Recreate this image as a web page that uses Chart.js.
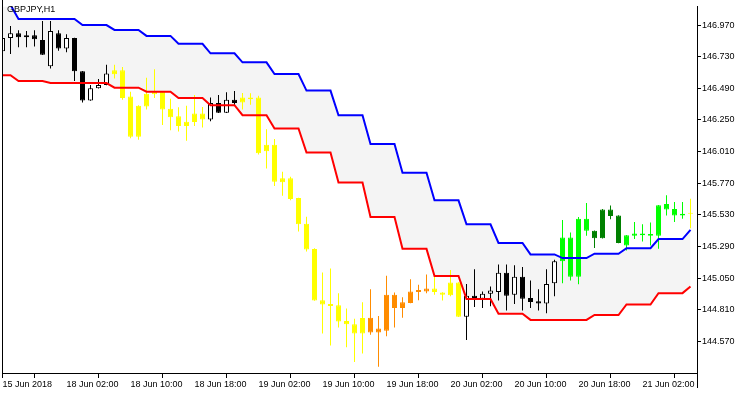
<!DOCTYPE html>
<html>
<head>
<meta charset="utf-8">
<style>
html,body{margin:0;padding:0;background:#ffffff;}
#wrap{position:relative;width:750px;height:394px;overflow:hidden;}
#c{display:block;}
#sym{position:absolute;left:7px;top:4px;font:9px "Liberation Sans",Arial,sans-serif;line-height:10px;color:#000;white-space:nowrap;}
</style>
<script src="https://cdn.jsdelivr.net/npm/chart.js@4.4.1/dist/chart.umd.min.js"></script>
</head>
<body>
<div id="wrap"><canvas id="c" width="750" height="394"></canvas><div id="sym">GBPJPY,H1</div></div>
<script>
// ---- data (GBPJPY, H1) ----
const open = [146.771,146.871,146.908,146.878,146.893,146.856,146.657,146.908,146.793,146.871,
146.620,146.398,146.490,146.515,146.597,146.627,146.428,146.122,146.353,146.446,
146.465,146.336,146.279,146.204,146.234,146.299,146.254,146.379,146.304,146.403,
146.383,146.420,146.420,146.013,146.062,145.777,145.807,145.657,145.463,145.270,
144.850,144.854,144.844,144.725,144.700,144.630,144.750,144.638,144.651,144.924,
144.824,144.862,144.944,144.949,144.971,144.941,144.919,145.016,144.757,144.917,
144.894,144.932,144.944,145.091,144.924,145.061,144.899,144.874,144.857,145.011,
145.178,145.359,145.061,145.501,145.409,145.352,145.570,145.525,145.297,145.372,
145.376,145.372,145.372,145.613,145.575,145.525,145.538];
const high = [146.888,146.963,146.930,146.925,146.930,147.000,147.000,146.930,146.901,146.874,
146.621,146.515,146.560,146.669,146.669,146.652,146.465,146.362,146.570,146.634,
146.467,146.411,146.346,146.358,146.440,146.349,146.420,146.440,146.461,146.470,
146.455,146.453,146.433,146.179,146.105,145.857,145.819,145.660,145.516,145.277,
145.093,145.123,144.936,144.820,144.742,144.867,144.966,144.762,145.068,144.941,
144.904,145.041,144.999,145.078,145.061,144.943,145.111,145.018,145.006,145.118,
144.949,144.986,145.153,145.153,145.148,145.135,145.031,144.966,145.118,145.190,
145.491,145.396,145.513,145.620,145.411,145.575,145.600,145.527,145.378,145.476,
145.458,145.471,145.605,145.678,145.628,145.628,145.652];
const low = [146.754,146.751,146.801,146.801,146.808,146.742,146.640,146.776,146.763,146.545,
146.383,146.395,146.488,146.513,146.565,146.403,146.112,146.100,146.329,146.416,
146.212,146.172,146.162,146.092,146.204,146.192,146.241,146.302,146.302,146.358,
146.329,146.366,145.988,145.881,145.749,145.675,145.640,145.404,145.252,144.878,
144.630,144.539,144.675,144.526,144.414,144.477,144.621,144.377,144.608,144.675,
144.750,144.860,144.882,144.936,144.924,144.880,144.912,144.755,144.581,144.830,
144.824,144.837,144.880,144.805,144.854,144.805,144.824,144.805,144.783,144.912,
145.011,145.031,145.003,145.372,145.279,145.350,145.496,145.315,145.260,145.346,
145.327,145.297,145.272,145.525,145.476,145.501,145.428];
const close = [146.871,146.908,146.878,146.893,146.863,146.744,146.925,146.793,146.871,146.620,
146.398,146.490,146.515,146.602,146.627,146.416,146.122,146.358,146.448,146.465,
146.329,146.271,146.204,146.237,146.299,146.254,146.379,146.304,146.403,146.379,
146.420,146.408,145.998,146.062,145.782,145.807,145.650,145.458,145.267,144.880,
144.882,144.839,144.720,144.700,144.630,144.748,144.638,144.668,144.924,144.824,
144.867,144.949,144.959,144.971,144.944,144.924,145.016,144.757,144.917,144.899,
144.932,144.956,145.091,144.917,145.061,144.894,144.869,144.857,145.006,145.178,
145.359,145.061,145.501,145.409,145.352,145.570,145.521,145.317,145.376,145.389,
145.389,145.384,145.603,145.570,145.525,145.538,145.543];
// upper / lower channel band
const upper = [147.123,147.123,147.017,147.017,147.017,147.017,147.017,147.017,147.017,147.017,
146.970,146.970,146.970,146.970,146.933,146.933,146.933,146.933,146.888,146.888,
146.888,146.888,146.828,146.828,146.828,146.828,146.756,146.756,146.756,146.756,
146.687,146.687,146.687,146.687,146.599,146.599,146.599,146.599,146.473,146.473,
146.473,146.473,146.286,146.286,146.286,146.286,146.068,146.068,146.068,146.068,
145.849,145.849,145.849,145.849,145.640,145.640,145.640,145.640,145.458,145.458,
145.458,145.458,145.317,145.317,145.317,145.317,145.230,145.230,145.230,145.230,
145.202,145.202,145.202,145.202,145.235,145.235,145.235,145.235,145.277,145.277,
145.277,145.277,145.346,145.346,145.346,145.346,145.416];
const lower = [146.590,146.590,146.545,146.545,146.545,146.545,146.530,146.530,146.530,146.530,
146.530,146.530,146.530,146.530,146.495,146.495,146.495,146.495,146.465,146.465,
146.465,146.465,146.416,146.416,146.416,146.416,146.362,146.362,146.362,146.362,
146.286,146.286,146.286,146.286,146.185,146.185,146.185,146.185,146.003,146.003,
146.003,146.003,145.775,145.775,145.775,145.775,145.514,145.514,145.514,145.514,
145.272,145.272,145.272,145.272,145.066,145.066,145.066,145.066,144.892,144.892,
144.892,144.892,144.780,144.780,144.780,144.780,144.733,144.733,144.733,144.733,
144.733,144.733,144.733,144.733,144.770,144.770,144.770,144.770,144.850,144.850,
144.850,144.850,144.936,144.936,144.936,144.936,144.986];
// candle state per bar: n = none, y = weak, o = strong down, g = up, d = up (pullback)
const state = ('nnnnnnnnnnnnnn' + 'yyyyyyyyyyyy' + 'nnnn' + 'yyyyyyyyyyyyyyyy' + 'oooooooo' +
  'yyyy' + 'nnnnnnnnnnnn' + 'gggg' + 'dddd' + 'gggggggg' + 'y').split('');
const timeTickBars = [0,8,16,24,32,40,48,56,64,72,80];
const timeTickLabels = ['15 Jun 2018','18 Jun 02:00','18 Jun 10:00','18 Jun 18:00','19 Jun 02:00',
  '19 Jun 10:00','19 Jun 18:00','20 Jun 02:00','20 Jun 10:00','20 Jun 18:00','21 Jun 02:00'];
const priceTicks = [144.570,144.810,145.050,145.290,145.530,145.770,146.010,146.250,146.490,146.730,146.970];

// ---- styling ----
const STATE_COLOR = {y:'#ffff00', o:'#ff8c00', g:'#00ff00', d:'#008000'};
function edgeColor(i){ return state[i] === 'n' ? '#000000' : STATE_COLOR[state[i]]; }
function bodyColor(i){
  if (state[i] === 'n') return close[i] >= open[i] ? '#ffffff' : '#000000';
  return STATE_COLOR[state[i]];
}
const bars = open.map((_, i) => i);
const FONT = {family:'"Liberation Sans", Arial, sans-serif', size:9};

const framePlugin = {
  id:'frame',
  afterDraw(chart){
    const {ctx, chartArea:a} = chart;
    ctx.save();
    ctx.fillStyle = '#000';
    ctx.fillRect(Math.floor(a.left), 0, 1, a.bottom + 5);
    ctx.fillRect(Math.floor(a.right), a.bottom, 1, 15);
    ctx.restore();
  }
};

new Chart(document.getElementById('c'), {
  type:'line',
  data:{
    datasets:[
      {type:'line', label:'Upper', data:bars.map(i => ({x:i, y:upper[i]})),
        borderColor:'#0000ff', borderWidth:2, pointRadius:0, tension:0,
        fill:'+1', backgroundColor:'#f4f4f4', order:0},
      {type:'line', label:'Lower', data:bars.map(i => ({x:i, y:lower[i]})),
        borderColor:'#ff0000', borderWidth:2, pointRadius:0, tension:0,
        fill:false, order:0},
      {type:'bar', label:'Body', data:bars.map(i => ({x:i, y:[open[i], close[i]]})),
        backgroundColor:ctx => bodyColor(ctx.dataIndex),
        borderColor:ctx => edgeColor(ctx.dataIndex),
        borderWidth:1, borderSkipped:false, barThickness:5, grouped:false,
        minBarLength:1, inflateAmount:0, order:1},
      {type:'bar', label:'Wick', data:bars.map(i => ({x:i, y:[low[i], high[i]]})),
        backgroundColor:ctx => edgeColor(ctx.dataIndex),
        borderWidth:0, barThickness:1, grouped:false, inflateAmount:0, order:2}
    ]
  },
  options:{
    responsive:false,
    animation:false,
    devicePixelRatio:1,
    events:[],
    layout:{padding:{left:2, top:0, right:0, bottom:0}},
    plugins:{legend:{display:false}, tooltip:{enabled:false}, filler:{drawTime:'beforeDatasetsDraw'}},
    scales:{
      x:{
        type:'linear', position:'bottom', offset:false,
        min:-0.0625, max:86.8125,
        grid:{display:true, drawOnChartArea:false, drawTicks:true, tickLength:5, color:'#000', lineWidth:1},
        border:{display:true, color:'#000', width:1},
        afterBuildTicks:s => { s.ticks = timeTickBars.map(v => ({value:v})); },
        afterFit:s => { s.height = 21; },
        ticks:{autoSkip:false, maxRotation:0, minRotation:0, align:'start', padding:1, color:'#000', font:FONT,
          callback:(v, k) => timeTickLabels[k]}
      },
      y:{
        type:'linear', position:'right',
        min:144.3299, max:147.1117,
        grid:{display:true, drawOnChartArea:false, drawTicks:true, tickLength:4, color:'#000', lineWidth:1},
        border:{display:true, color:'#000', width:1},
        afterBuildTicks:s => { s.ticks = priceTicks.map(v => ({value:v})); },
        afterFit:s => { s.width = 53; },
        ticks:{padding:1, color:'#000', font:FONT, callback:v => Number(v).toFixed(3)}
      }
    }
  },
  plugins:[framePlugin]
});
</script>
</body>
</html>
